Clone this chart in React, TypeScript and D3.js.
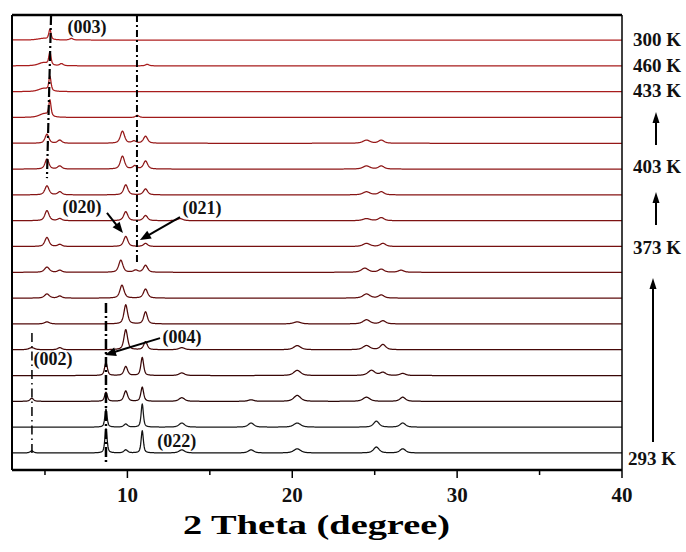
import React from "react";
import * as d3 from "d3";

// ---------- data ----------
const X_DOMAIN: [number, number] = [3, 40];
const MAJOR_TICKS = [10, 20, 30, 40];
const MINOR_TICKS = [5, 15, 25, 35];
const X_TITLE = "2 Theta (degree)";

// traces from top (300 K) to bottom (293 K); each peak = [2theta, intensity, fwhm]
const TRACE_PEAKS: [number, number, number][][] = [
  [[5.3, 39, 0.16], [4.9, 6, 0.8], [6.6, 6, 0.25]],
  [[4.9, 12, 0.7], [5.3, 50, 0.16], [6.0, 8, 0.25], [11.2, 6, 0.25]],
  [[4.9, 12, 0.7], [5.3, 55, 0.16]],
  [[4.95, 14, 0.7], [5.3, 62, 0.16], [10.6, 8, 0.25]],
  [[5.12, 35, 0.28], [5.9, 12, 0.3], [9.7, 47, 0.3], [10.4, 8, 0.3], [11.1, 27, 0.3], [24.5, 12, 0.5], [25.4, 12, 0.4]],
  [[5.12, 39, 0.28], [5.9, 12, 0.3], [9.7, 50, 0.3], [10.45, 12, 0.3], [11.1, 31, 0.3], [24.5, 12, 0.5], [25.4, 12, 0.4]],
  [[5.12, 35, 0.3], [5.9, 12, 0.3], [9.9, 39, 0.3], [11.1, 23, 0.3], [24.5, 12, 0.5], [25.4, 12, 0.4]],
  [[5.12, 39, 0.3], [5.9, 8, 0.3], [9.9, 35, 0.3], [11.1, 20, 0.3], [13.2, 8, 0.4], [24.5, 8, 0.5], [25.4, 12, 0.4]],
  [[5.12, 35, 0.3], [5.9, 8, 0.3], [9.9, 39, 0.3], [11.1, 12, 0.3], [24.5, 12, 0.5], [25.5, 12, 0.4]],
  [[5.12, 20, 0.35], [5.9, 8, 0.3], [9.6, 47, 0.3], [10.5, 8, 0.3], [11.1, 27, 0.3], [24.4, 16, 0.5], [25.4, 12, 0.4], [26.6, 8, 0.4]],
  [[5.12, 16, 0.35], [5.9, 8, 0.3], [9.67, 50, 0.3], [11.1, 35, 0.3], [24.5, 16, 0.5], [25.4, 12, 0.4]],
  [[5.12, 8, 0.35], [9.9, 74, 0.26], [11.1, 47, 0.26], [20.3, 8, 0.5], [24.5, 16, 0.5], [25.5, 12, 0.4]],
  [[4.2, 8, 0.4], [5.9, 8, 0.3], [9.9, 78, 0.26], [11.1, 31, 0.26], [13.3, 8, 0.4], [20.3, 16, 0.5], [24.5, 16, 0.5], [25.5, 20, 0.4]],
  [[8.7, 50, 0.2], [9.9, 35, 0.26], [10.9, 70, 0.2], [13.3, 10, 0.4], [20.3, 20, 0.5], [24.8, 20, 0.5], [25.5, 12, 0.4], [26.7, 8, 0.4]],
  [[4.2, 12, 0.25], [8.7, 35, 0.2], [9.9, 40, 0.26], [10.9, 55, 0.2], [13.3, 14, 0.4], [17.5, 6, 0.4], [20.3, 23, 0.5], [24.5, 16, 0.5], [26.7, 16, 0.4]],
  [[8.7, 70, 0.16], [9.9, 12, 0.26], [10.9, 90, 0.16], [13.3, 16, 0.4], [17.5, 16, 0.4], [20.3, 16, 0.5], [25.1, 23, 0.4], [26.7, 16, 0.4]],
  [[4.2, 8, 0.25], [8.7, 94, 0.16], [9.9, 12, 0.26], [10.9, 86, 0.16], [13.3, 12, 0.4], [17.5, 12, 0.4], [20.3, 16, 0.5], [25.1, 23, 0.4], [26.7, 16, 0.4]],
];
const TRACE_OFFSET = 100;
const TRACE_COLORS = [
  "#b02020", "#a81c1c", "#a81c1c", "#a01a1a", "#961818", "#8e1616", "#861414",
  "#7e1212", "#761010", "#6a0e0e", "#5e0c0c", "#520a0a", "#460808", "#3a0707",
  "#2a0606", "#1a1a1a", "#111111",
];

// temperature labels: [trace index from top, text, x, dy]
const TEMP_LABELS: [number, string, number, number][] = [
  [0, "300 K", 633, 6],
  [1, "460 K", 633, 6],
  [2, "433 K", 633, 5],
  [5, "403 K", 633, 4],
  [8, "373 K", 633, 7],
  [16, "293 K", 628, 12],
];
// arrows at right: [x px, y from, y to]
const TEMP_ARROWS: [number, number, number][] = [
  [656, 145, 112],
  [656, 225, 192],
  [653, 442, 278],
];

// reflections
const HKL_LABELS: [string, number, number][] = [
  ["(003)", 7.55, 1627],
  ["(020)", 7.25, 930],
  ["(021)", 14.52, 926],
  ["(004)", 13.31, 426],
  ["(002)", 5.49, 341],
  ["(022)", 13.0, 23],
];
const HKL_ARROWS: [number, number, number, number][] = [
  [8.76, 930, 9.73, 852],
  [13.19, 914, 10.76, 825],
  [11.98, 445, 8.64, 380],
];
// guide lines: [x1, u1, x2, u2, width, dash]
const GUIDES: [number, number, number, number, number, string][] = [
  [5.37, 1697, 5.12, 1065, 2.2, "10,3,2,3"],
  [10.58, 1697, 10.58, 740, 2, "7,3,2,3"],
  [4.21, 465, 4.21, -8, 1.5, "9,4,1.5,4"],
  [8.7, 581, 8.7, -35, 2.5, "10,3,2,3"],
];

// ---------- layout ----------
const W = 686;
const H = 552;
const L = 12, R = 622, T = 15, B = 470;
const serif = "'Liberation Serif', 'Times New Roman', Times, 'Nimbus Roman', 'DejaVu Serif Condensed', serif";

export default function App() {
  const x = d3.scaleLinear().domain(X_DOMAIN).range([L, R]);
  const y = d3.scaleLinear().domain([-66, 1697]).range([B, T]);
  const n = TRACE_PEAKS.length;
  const base = (t: number) => (n - 1 - t) * TRACE_OFFSET;

  const grid = d3.range(X_DOMAIN[0], X_DOMAIN[1] + 0.0001, 0.02);
  const line = d3.line<[number, number]>().x((d) => x(d[0])).y((d) => y(d[1]));

  const paths = TRACE_PEAKS.map((peaks, t) => {
    const pts: [number, number][] = grid.map((v) => {
      let s = 0;
      for (const [c, h, w] of peaks) {
        const z = (v - c) / (w / 2);
        // pseudo-Voigt
        s += h * (0.6 / (1 + z * z) + 0.4 * Math.exp(-Math.LN2 * z * z));
      }
      return [v, base(t) + s];
    });
    return line(pts) || "";
  });

  const ah = (x1: number, y1: number, x2: number, y2: number, len = 10, wid = 4) => {
    const a = Math.atan2(y2 - y1, x2 - x1);
    const bx = x2 - len * Math.cos(a), by = y2 - len * Math.sin(a);
    const px = -Math.sin(a) * wid, py = Math.cos(a) * wid;
    return `M${x2},${y2}L${bx + px},${by + py}L${bx - px},${by - py}Z`;
  };

  return (
    <svg width={W} height={H} style={{ display: "block", position: "absolute", left: 0, top: 0, background: "#fff" }}>
      <rect x={0} y={0} width={W} height={H} fill="#fff" />
      {paths.map((d, i) => (
        <path key={i} d={d} fill="none" stroke={TRACE_COLORS[i]} strokeWidth={1.25} strokeLinejoin="round" />
      ))}
      {GUIDES.map(([a, u1, b, u2, w, dash], i) => (
        <line key={i} x1={x(a)} y1={y(u1)} x2={x(b)} y2={y(u2)} stroke="#000" strokeWidth={w} strokeDasharray={dash} />
      ))}
      {HKL_ARROWS.map(([a, u1, b, u2], i) => {
        const x1 = x(a), y1 = y(u1), x2 = x(b), y2 = y(u2);
        const ang = Math.atan2(y2 - y1, x2 - x1);
        return (
          <g key={i}>
            <line x1={x1} y1={y1} x2={x2 - 8 * Math.cos(ang)} y2={y2 - 8 * Math.sin(ang)} stroke="#000" strokeWidth={2} />
            <path d={ah(x1, y1, x2, y2, 11, 4.5)} fill="#000" />
          </g>
        );
      })}
      {HKL_LABELS.map(([s, a, u], i) => (
        <text key={i} x={x(a)} y={y(u)} textAnchor="middle" fontFamily={serif} fontWeight="bold" fontSize={18} fill="#111">
          {s}
        </text>
      ))}
      {/* frame */}
      <line x1={L} y1={T} x2={R} y2={T} stroke="#000" strokeWidth={2.5} />
      <line x1={L} y1={B} x2={R} y2={B} stroke="#000" strokeWidth={2.5} />
      <line x1={L} y1={T} x2={L} y2={B} stroke="#000" strokeWidth={2} />
      <line x1={R} y1={T} x2={R} y2={B} stroke="#000" strokeWidth={1.5} />
      {MAJOR_TICKS.map((v) => (
        <g key={v}>
          <line x1={x(v)} y1={B} x2={x(v)} y2={B + 8} stroke="#000" strokeWidth={1.5} />
          <text x={x(v)} y={502} textAnchor="middle" fontFamily={serif} fontWeight="bold" fontSize={21} fill="#111">
            {v}
          </text>
        </g>
      ))}
      {MINOR_TICKS.map((v) => (
        <line key={v} x1={x(v)} y1={B} x2={x(v)} y2={B + 5} stroke="#000" strokeWidth={1.5} />
      ))}
      <text x={316.5} y={534} textAnchor="middle" fontFamily={serif} fontWeight="bold" fontSize={28} textLength={267} lengthAdjust="spacingAndGlyphs" fill="#000">
        {X_TITLE}
      </text>
      {TEMP_LABELS.map(([t, s, px, dy], i) => (
        <text key={i} x={px} y={y(base(t)) + dy} fontFamily={serif} fontWeight="bold" fontSize={19} fill="#111">
          {s}
        </text>
      ))}
      {TEMP_ARROWS.map(([px, y1, y2], i) => (
        <g key={i}>
          <line x1={px} y1={y1} x2={px} y2={y2 + 8} stroke="#000" strokeWidth={2} />
          <path d={ah(px, y1, px, y2, 11, 3.5)} fill="#000" />
        </g>
      ))}
    </svg>
  );
}
